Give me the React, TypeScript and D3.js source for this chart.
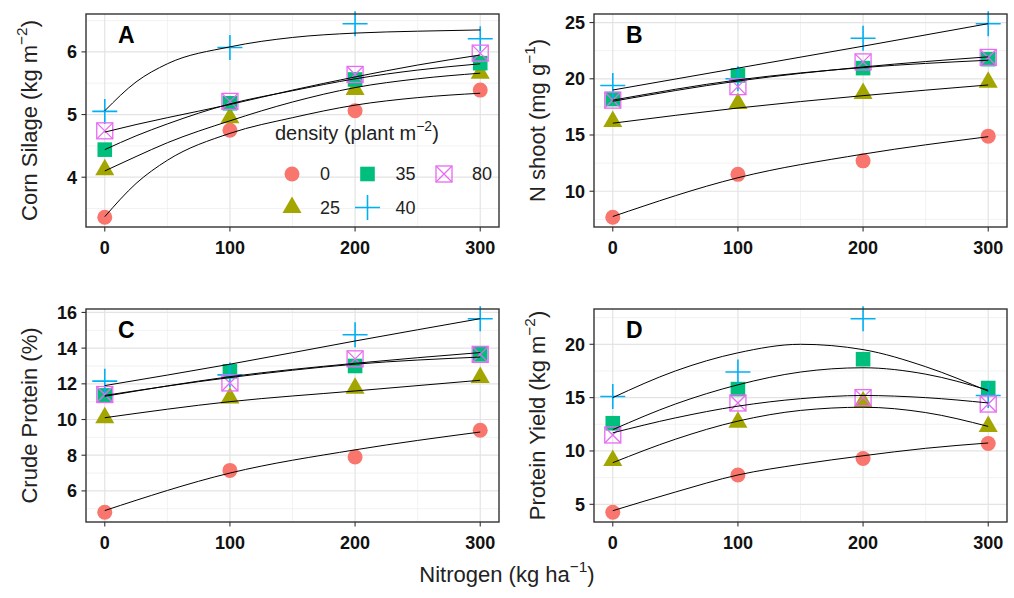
import React from "react";
import * as d3 from "d3";

// nitrogen rate (kg/ha) on x
const nitrogen = [0, 100, 200, 300];
const nitrogenMinor = [50, 150, 250];

const densityLevels = ["0", "25", "35", "40", "80"];
const densityColors = ["#F8766D", "#A3A500", "#00BF7D", "#00B0F6", "#E76BF3"];
const densityShapes = ["circle", "triangle", "square", "plus", "squarecross"];

// A - corn silage (kg m-2)
const silage0 = [3.36, 4.75, 5.06, 5.39];
const silage25 = [4.12, 4.95, 5.4, 5.66];
const silage35 = [4.44, 5.18, 5.56, 5.82];
const silage40 = [5.05, 6.07, 6.45, 6.21];
const silage80 = [4.74, 5.21, 5.64, 5.98];
const silageFitN = [0, 25, 50, 100, 150, 200, 250, 300];
const silageFit0 = [3.37, 3.9, 4.27, 4.7, 4.95, 5.15, 5.27, 5.34];
const silageFit25 = [4.1, 4.33, 4.55, 4.9, 5.2, 5.43, 5.57, 5.66];
const silageFit35 = [4.44, 4.66, 4.85, 5.17, 5.38, 5.57, 5.71, 5.81];
const silageFit40 = [5.06, 5.52, 5.81, 6.08, 6.23, 6.3, 6.33, 6.35];
const silageFit80 = [4.72, 4.84, 4.95, 5.16, 5.39, 5.6, 5.79, 5.95];
const silageTicks = [4, 5, 6];

// B - N shoot (mg g-1)
const nshoot0 = [7.68, 11.5, 12.7, 14.9];
const nshoot25 = [16.2, 17.8, 18.7, 19.7];
const nshoot35 = [18.2, 20.3, 20.95, 21.75];
const nshoot40 = [19.4, 20.0, 23.6, 24.9];
const nshoot80 = [18.1, 19.3, 21.5, 21.9];
const nshootFitN = [0, 100, 200, 300];
const nshootFit0 = [7.75, 11.2, 13.3, 14.85];
const nshootFit25 = [16.05, 17.4, 18.5, 19.45];
const nshootFit35 = [18.1, 19.9, 21.0, 21.65];
const nshootFit40 = [19.0, 20.95, 22.9, 24.9];
const nshootFit80 = [18.0, 19.8, 21.05, 21.95];
const nshootTicks = [10, 15, 20, 25];

// C - crude protein (%)
const protein0 = [4.8, 7.15, 7.9, 9.4];
const protein25 = [10.1, 11.2, 11.75, 12.35];
const protein35 = [11.35, 12.7, 13.0, 13.65];
const protein40 = [12.15, 12.5, 14.75, 15.65];
const protein80 = [11.4, 12.05, 13.4, 13.65];
const proteinFitN = [0, 100, 200, 300];
const proteinFit0 = [4.9, 7.0, 8.3, 9.3];
const proteinFit25 = [10.1, 11.0, 11.6, 12.2];
const proteinFit35 = [11.35, 12.35, 13.1, 13.5];
const proteinFit40 = [11.9, 13.1, 14.4, 15.65];
const proteinFit80 = [11.3, 12.4, 13.15, 13.75];
const proteinTicks = [6, 8, 10, 12, 14, 16];

// D - protein yield (kg m-2)
const yield0 = [4.25, 7.75, 9.3, 10.7];
const yield25 = [9.1, 12.7, 14.6, 12.3];
const yield35 = [12.6, 15.8, 18.6, 15.9];
const yield40 = [15.1, 17.4, 22.4, 15.2];
const yield80 = [11.5, 14.5, 15.0, 14.4];
const yieldFitN = [0, 50, 100, 150, 200, 250, 300];
const yieldFit0 = [4.4, 6.15, 7.75, 8.75, 9.55, 10.25, 10.75];
const yieldFit25 = [8.9, 11.1, 12.8, 13.8, 14.1, 13.6, 12.3];
const yieldFit35 = [12.0, 14.4, 16.2, 17.4, 17.8, 17.2, 15.7];
const yieldFit40 = [15.0, 17.5, 19.2, 20.0, 19.5, 17.9, 15.6];
const yieldFit80 = [11.7, 13.1, 14.2, 14.9, 15.2, 15.0, 14.5];
const yieldTicks = [5, 10, 15, 20];

const panels = [
  {
    letter: "A", col: 0, row: 0, ticks: silageTicks,
    title: ["Corn Silage (kg m", "\u22122", ")"],
    points: [silage0, silage25, silage35, silage40, silage80],
    fitN: silageFitN,
    fits: [silageFit0, silageFit25, silageFit35, silageFit40, silageFit80],
  },
  {
    letter: "B", col: 1, row: 0, ticks: nshootTicks,
    title: ["N shoot (mg g", "\u22121", ")"],
    points: [nshoot0, nshoot25, nshoot35, nshoot40, nshoot80],
    fitN: nshootFitN,
    fits: [nshootFit0, nshootFit25, nshootFit35, nshootFit40, nshootFit80],
  },
  {
    letter: "C", col: 0, row: 1, ticks: proteinTicks,
    title: ["Crude Protein (%)", "", ""],
    points: [protein0, protein25, protein35, protein40, protein80],
    fitN: proteinFitN,
    fits: [proteinFit0, proteinFit25, proteinFit35, proteinFit40, proteinFit80],
  },
  {
    letter: "D", col: 1, row: 1, ticks: yieldTicks,
    title: ["Protein Yield (kg m", "\u22122", ")"],
    points: [yield0, yield25, yield35, yield40, yield80],
    fitN: yieldFitN,
    fits: [yieldFit0, yieldFit25, yieldFit35, yieldFit40, yieldFit80],
  },
];

const W = 1014;
const H = 598;
const boxLeft = [86, 594];
const boxTop = [14, 309];
const boxW = 413;
const boxH = 213;
const font = "'Liberation Sans', Arial, sans-serif";

function Marker({ shape, x, y, color }) {
  if (shape === "circle") return <circle cx={x} cy={y} r={7.5} fill={color} />;
  if (shape === "square")
    return <rect x={x - 7.3} y={y - 7.3} width={14.6} height={14.6} fill={color} />;
  if (shape === "triangle") {
    const r = 11;
    return (
      <path
        d={`M${x},${y - r}L${x + r * 0.866},${y + r / 2}L${x - r * 0.866},${y + r / 2}Z`}
        fill={color}
      />
    );
  }
  if (shape === "plus") {
    const a = 12.5;
    return (
      <path d={`M${x - a},${y}H${x + a}M${x},${y - a}V${y + a}`} stroke={color} strokeWidth={1.6} fill="none" />
    );
  }
  const s = 8;
  return (
    <g stroke={color} strokeWidth={1.3} fill="none">
      <rect x={x - s} y={y - s} width={2 * s} height={2 * s} />
      <path d={`M${x - s},${y - s}L${x + s},${y + s}M${x + s},${y - s}L${x - s},${y + s}`} />
    </g>
  );
}

function SupText({ parts, size }) {
  const [base, sup, tail] = parts;
  if (!sup) return <>{base}</>;
  return (
    <>
      {base}
      <tspan dy={-size * 0.45} fontSize={size * 0.7}>{sup}</tspan>
      <tspan dy={size * 0.45}>{tail}</tspan>
    </>
  );
}

function Panel({ p }) {
  const left = boxLeft[p.col];
  const top = boxTop[p.row];
  const x = d3.scaleLinear().domain([-15, 315]).range([left, left + boxW]);
  const all = [...p.points.flat(), ...p.fits.flat()];
  const [lo, hi] = d3.extent(all);
  const pad = (hi - lo) * 0.05;
  const y = d3.scaleLinear().domain([lo - pad, hi + pad]).range([top + boxH, top]);
  const step = p.ticks[1] - p.ticks[0];
  const minor = [p.ticks[0] - step / 2, ...p.ticks.map((t) => t + step / 2)].filter(
    (t) => t >= y.domain()[0] && t <= y.domain()[1]
  );
  const line = d3
    .line()
    .x((d) => x(d[0]))
    .y((d) => y(d[1]))
    .curve(d3.curveMonotoneX);

  return (
    <g>
      <rect x={left} y={top} width={boxW} height={boxH} fill="#fff" />
      {/* grid */}
      {minor.map((t) => (
        <line key={"hm" + t} x1={left} x2={left + boxW} y1={y(t)} y2={y(t)} stroke="#ececec" strokeWidth={0.7} />
      ))}
      {nitrogenMinor.map((t) => (
        <line key={"vm" + t} x1={x(t)} x2={x(t)} y1={top} y2={top + boxH} stroke="#ececec" strokeWidth={0.7} />
      ))}
      {p.ticks.map((t) => (
        <line key={"h" + t} x1={left} x2={left + boxW} y1={y(t)} y2={y(t)} stroke="#e3e3e3" strokeWidth={1.2} />
      ))}
      {nitrogen.map((t) => (
        <line key={"v" + t} x1={x(t)} x2={x(t)} y1={top} y2={top + boxH} stroke="#e3e3e3" strokeWidth={1.2} />
      ))}

      {/* points */}
      {p.points.map((vals, i) =>
        vals.map((v, j) => (
          <Marker key={i + "-" + j} shape={densityShapes[i]} color={densityColors[i]} x={x(nitrogen[j])} y={y(v)} />
        ))
      )}

      {/* fitted curves */}
      {p.fits.map((vals, i) => (
        <path
          key={"f" + i}
          d={line(vals.map((v, j) => [p.fitN[j], v]))}
          fill="none"
          stroke="#000"
          strokeWidth={1}
        />
      ))}

      <rect x={left} y={top} width={boxW} height={boxH} fill="none" stroke="#333" strokeWidth={1.4} />

      {/* axes */}
      {p.ticks.map((t) => (
        <g key={"yt" + t}>
          <line x1={left - 4.5} x2={left} y1={y(t)} y2={y(t)} stroke="#333" strokeWidth={1.1} />
          <text x={left - 9} y={y(t)} dy="0.36em" textAnchor="end" fontSize={18} fontWeight="bold" fill="#111">
            {t}
          </text>
        </g>
      ))}
      {nitrogen.map((t) => (
        <g key={"xt" + t}>
          <line x1={x(t)} x2={x(t)} y1={top + boxH} y2={top + boxH + 4.5} stroke="#333" strokeWidth={1.1} />
          <text x={x(t)} y={top + boxH + 27} textAnchor="middle" fontSize={18} fontWeight="bold" fill="#111">
            {t}
          </text>
        </g>
      ))}

      <text x={left + 32} y={top + 29} fontSize={23} fontWeight="bold" fill="#000">
        {p.letter}
      </text>

      <text
        transform={`translate(${left - 49},${top + boxH / 2}) rotate(-90)`}
        textAnchor="middle"
        fontSize={22}
        fill="#222"
      >
        <SupText parts={p.title} size={22} />
      </text>
    </g>
  );
}

function Legend() {
  // two rows, filled by column: 0,25 | 35,40 | 80
  const colX = [292, 367.5, 444];
  const rowY = [174, 207.5];
  return (
    <g>
      <text x={275} y={140} fontSize={20} fill="#222">
        <SupText parts={["density (plant m", "\u22122", ")"]} size={20} />
      </text>
      {densityLevels.map((lvl, i) => {
        const cx = colX[Math.floor(i / 2)];
        const cy = rowY[i % 2];
        return (
          <g key={lvl}>
            <Marker shape={densityShapes[i]} color={densityColors[i]} x={cx} y={cy} />
            <text x={cx + 28} y={cy} dy="0.36em" fontSize={18} fill="#222">
              {lvl}
            </text>
          </g>
        );
      })}
    </g>
  );
}

export default function App() {
  return (
    <div style={{ position: "absolute", left: 0, top: 0, width: W, height: H, background: "#fff" }}>
      <svg width={W} height={H} fontFamily={font} style={{ display: "block" }}>
        <rect width={W} height={H} fill="#fff" />
        {panels.map((p) => (
          <Panel key={p.letter} p={p} />
        ))}
        <Legend />
        <text x={507} y={582} textAnchor="middle" fontSize={22} fill="#222">
          <SupText parts={["Nitrogen (kg ha", "\u22121", ")"]} size={22} />
        </text>
      </svg>
    </div>
  );
}
